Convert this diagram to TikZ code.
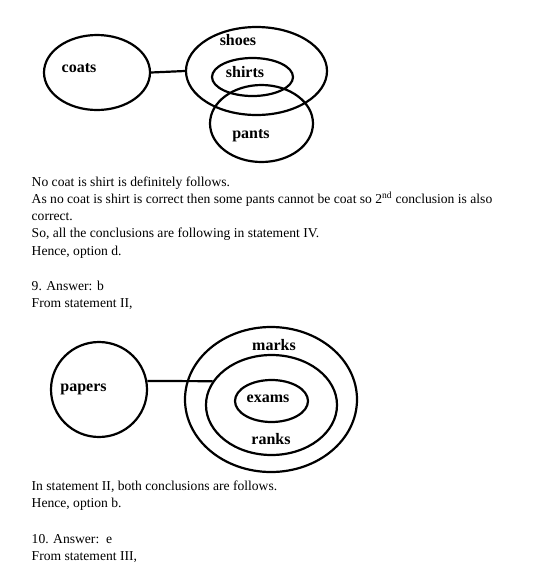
\documentclass[tikz,border=0pt]{standalone}
\usepackage{fontspec}
\setmainfont{Liberation Serif}
\usetikzlibrary{shapes.geometric}
\begin{document}
\begin{tikzpicture}[x=1pt,y=-1pt,
  venn/.style={draw=black,line width=2.2pt,ellipse,inner sep=0pt},
  lab/.style={font=\fontsize{16}{18}\selectfont\bfseries,inner sep=0pt},
  txt/.style={anchor=base west,inner sep=0pt,font=\fontsize{13.6}{16}\selectfont},
  conn/.style={line width=2.2pt}]
\useasboundingbox (0,0) rectangle (533,582);
% diagram 1
\node[venn,minimum width=106pt,minimum height=75pt] (coats) at (97,72.5) {};
\node[venn,minimum width=141pt,minimum height=88pt] (shoes) at (256.5,71) {};
\node[venn,minimum width=81pt,minimum height=38pt] (shirts) at (252.5,77) {};
\node[venn,minimum width=103pt,minimum height=77pt] (pants) at (261.5,123.5) {};
\draw[conn] (coats.east) -- (shoes.west);
\node[lab] (tcoats) at (79,68) {coats};
\node[lab] (tshoes) at (238,40) {shoes};
\node[lab] (tshirts) at (245,72) {shirts};
\node[lab] (tpants) at (251,136) {pants};
% text block 1
\node[txt] (l1) at (31.5,186.7) {No coat is shirt is definitely follows.};
\node[txt] (l2) at (31.5,203.3) {As no coat is shirt is correct then some pants cannot be coat so 2\textsuperscript{nd} conclusion is also};
\node[txt] (l3) at (31.5,220.7) {correct.};
\node[txt] (l4) at (31.5,237.3) {So, all the conclusions are following in statement IV.};
\node[txt] (l5) at (31.5,255) {Hence, option d.};
\node[txt] (l6) at (31.5,290) {9. Answer: b};
\node[txt] (l7) at (31.5,307.3) {From statement II,};
% diagram 2
\node[venn,minimum width=96pt,minimum height=95pt] (papers) at (99,389.5) {};
\node[venn,minimum width=172pt,minimum height=145pt] (marks) at (271,399.5) {};
\node[venn,minimum width=131pt,minimum height=100pt] (ranks) at (271.5,405) {};
\node[venn,minimum width=73pt,minimum height=42pt] (exams) at (271.5,401) {};
\draw[conn] (papers.10) -- (ranks.158.5);
\node[lab] (tpapers) at (83.5,389) {papers};
\node[lab] (tmarks) at (274,345) {marks};
\node[lab] (texams) at (268,399) {exams};
\node[lab] (tranks) at (271,439) {ranks};
% text block 2
\node[txt] (m1) at (31.5,490.7) {In statement II, both conclusions are follows.};
\node[txt] (m2) at (31.5,507.3) {Hence, option b.};
\node[txt] (m3) at (31.5,543.3) {10. Answer:~~e};
\node[txt] (m4) at (31.5,560) {From statement III,};
\end{tikzpicture}
\end{document}
